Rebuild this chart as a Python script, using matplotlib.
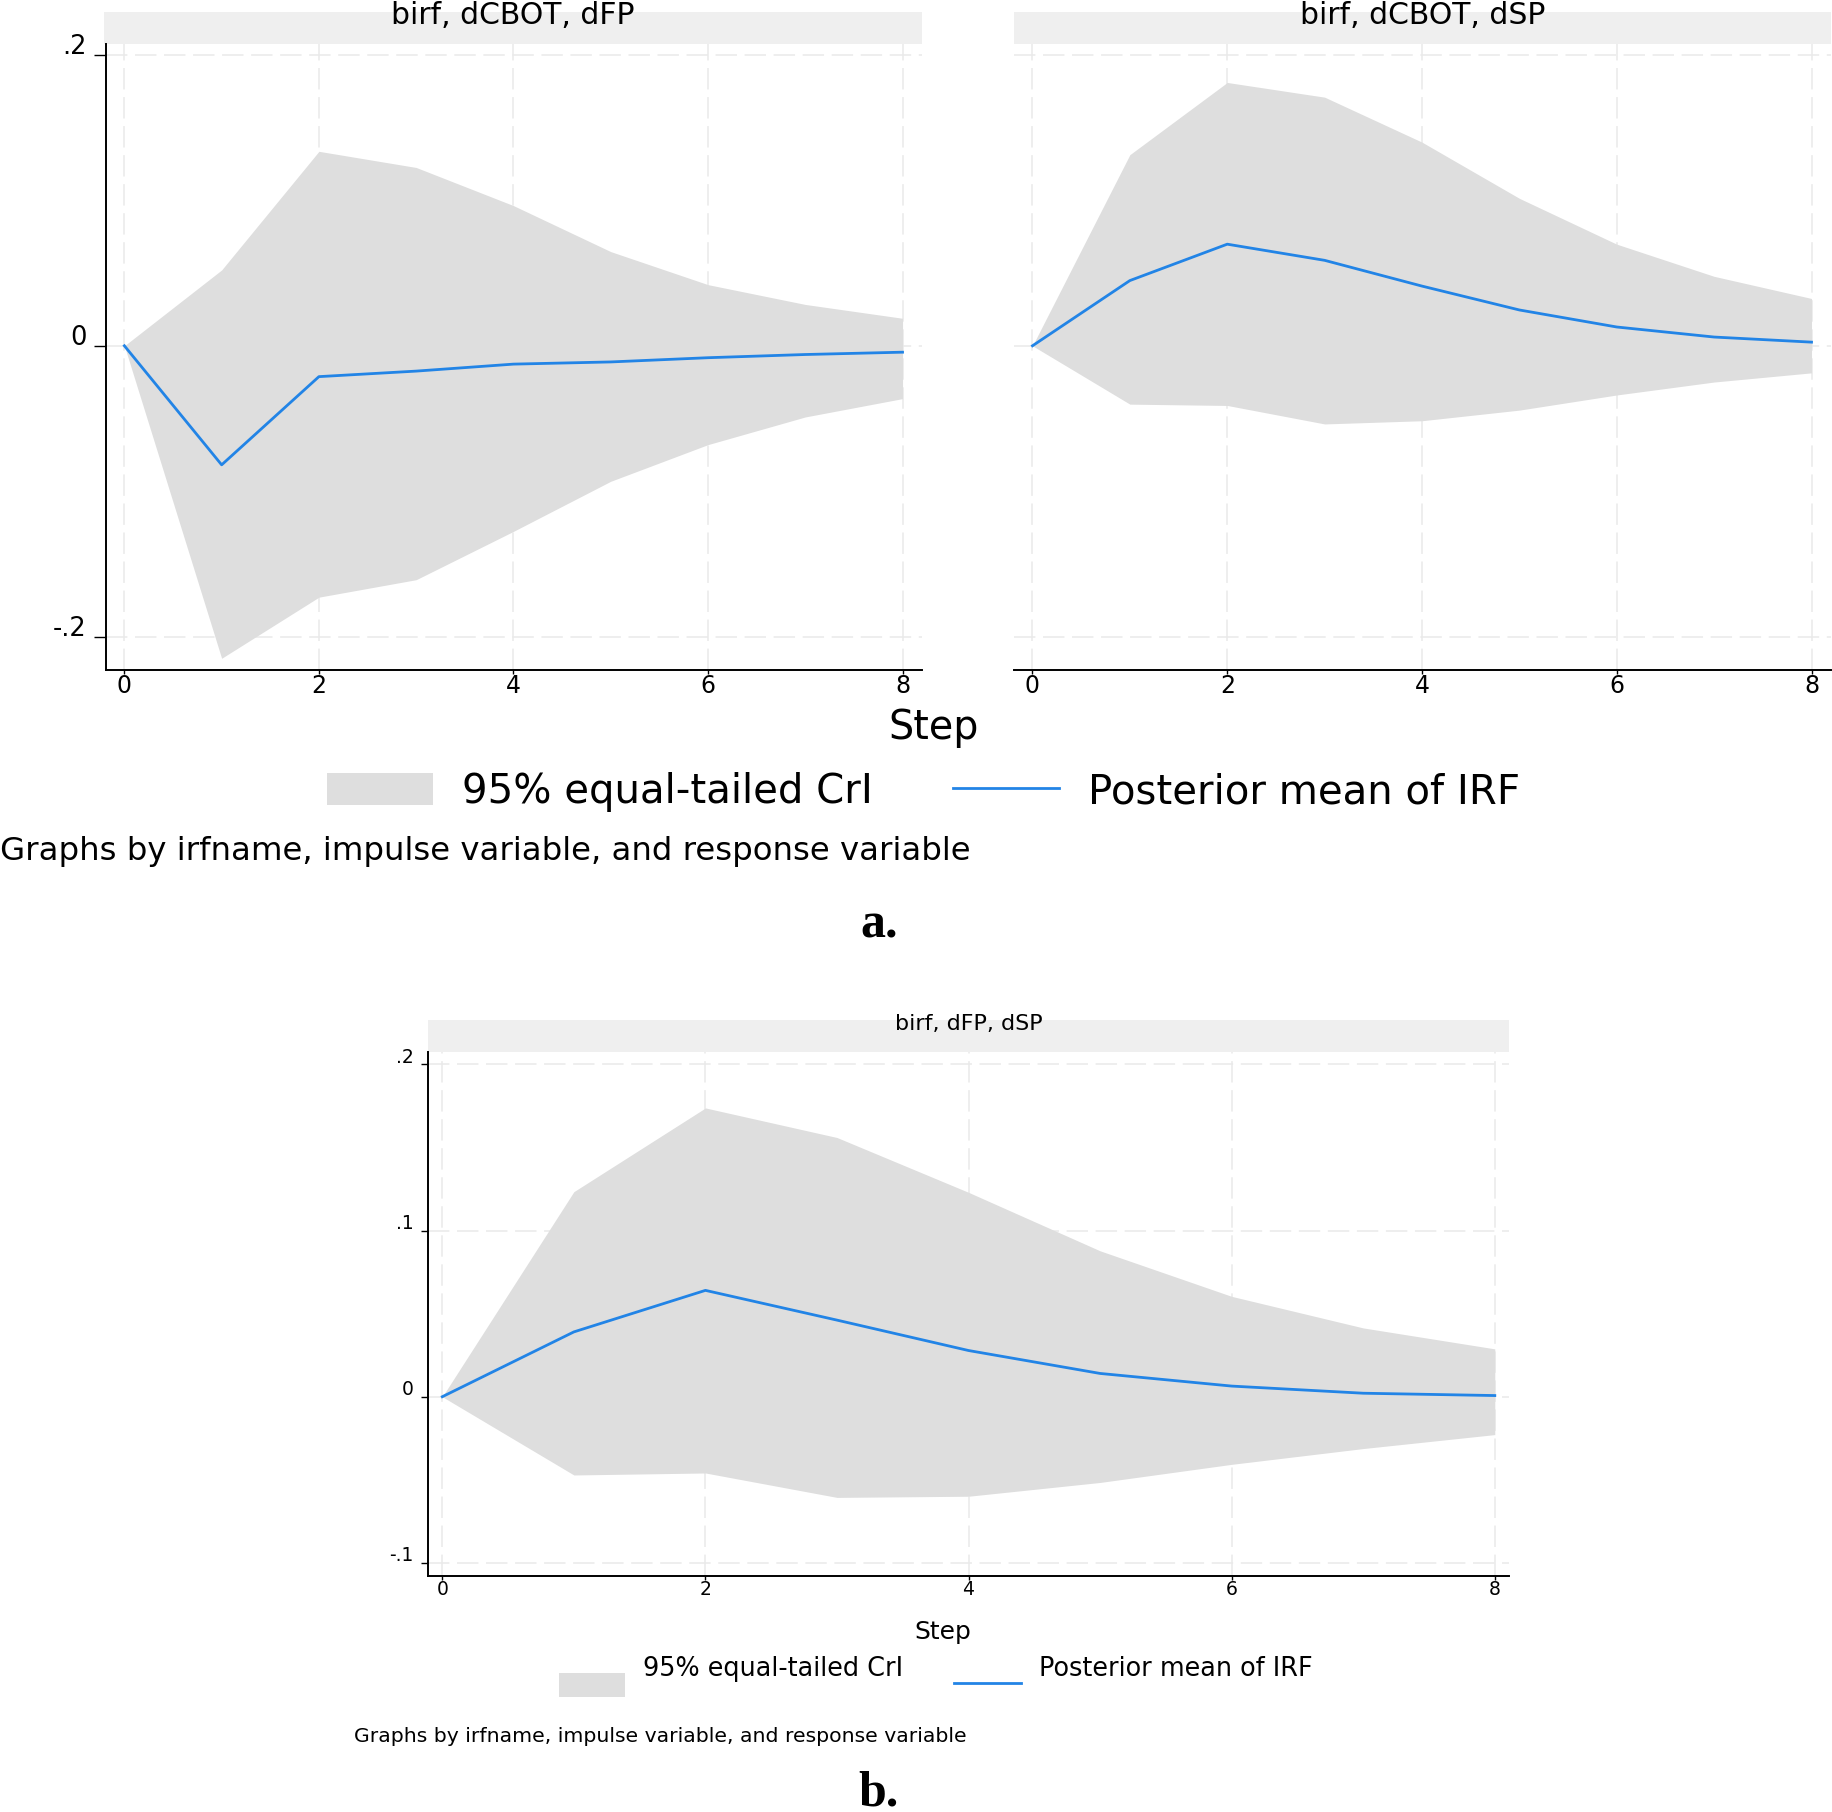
import matplotlib
matplotlib.use('Agg')
import matplotlib.pyplot as plt
from matplotlib.transforms import ScaledTranslation

W, H = 1833, 1812

steps = [0, 1, 2, 3, 4, 5, 6, 7, 8]

# panel a, left: birf, dCBOT, dFP
fp_lo = [0, -0.2147, -0.1727, -0.1607, -0.1275, -0.0931, -0.0679, -0.0489, -0.0363]
fp_hi = [0, 0.0521, 0.1336, 0.1225, 0.0963, 0.0647, 0.0420, 0.0284, 0.0189]
fp_mean = [0, -0.0818, -0.0212, -0.0174, -0.0126, -0.0111, -0.0082, -0.0060, -0.0044]

# panel a, right: birf, dCBOT, dSP
sp_lo = [0, -0.0401, -0.0410, -0.0537, -0.0515, -0.0442, -0.0338, -0.0249, -0.0186]
sp_hi = [0, 0.1313, 0.1809, 0.1708, 0.1399, 0.1013, 0.0698, 0.0477, 0.0325]
sp_mean = [0, 0.0448, 0.0698, 0.0587, 0.0410, 0.0246, 0.0129, 0.0060, 0.0025]

# panel b: birf, dFP, dSP
b_lo = [0, -0.0471, -0.0459, -0.0606, -0.0599, -0.0516, -0.0407, -0.0312, -0.0228]
b_hi = [0, 0.1234, 0.1738, 0.1560, 0.1230, 0.0878, 0.0604, 0.0414, 0.0288]
b_mean = [0, 0.0390, 0.0640, 0.0461, 0.0278, 0.0140, 0.0064, 0.0021, 0.0007]

xticks = [0, 2, 4, 6, 8]
a_yticks = [-0.2, 0, 0.2]
a_ylabels = ['-.2', '0', '.2']
b_yticks = [-0.1, 0, 0.1, 0.2]
b_ylabels = ['-.1', '0', '.1', '.2']

band_label = '95% equal-tailed CrI'
line_label = 'Posterior mean of IRF'
note = 'Graphs by irfname, impulse variable, and response variable'

FILL = '#dedede'
BLUE = '#2284e6'
GRID = '#e9e9e9'
STRIP = '#efefef'

fig = plt.figure(figsize=(W / 100, H / 100), dpi=100)


def px_axes(x0, y0, x1, y1, **kw):
    return fig.add_axes([x0 / W, 1 - y1 / H, (x1 - x0) / W, (y1 - y0) / H], **kw)


def strip(x0, y0, x1, y1, title, ty, size):
    s = px_axes(x0, y0, x1, y1, facecolor=STRIP)
    s.set_xticks([])
    s.set_yticks([])
    for sp in s.spines.values():
        sp.set_visible(False)
    fig.text((x0 + x1) / 2 / W, 1 - ty / H, title, ha='center', va='center',
             fontsize=size)


def panel(ax, lo, hi, mean, xlim, ylim, yticks, ylabels, tsize, xsize, show_y, ylen, up):
    ax.fill_between(steps, lo, hi, color=FILL, lw=0, label=band_label, zorder=1)
    ax.plot(steps, mean, color=BLUE, lw=2.0, label=line_label, zorder=3)
    ax.set_xlim(*xlim)
    ax.set_ylim(*ylim)
    ax.set_xticks(xticks)
    ax.set_xticklabels([str(v) for v in xticks])
    ax.set_yticks(yticks)
    ax.grid(True, color=GRID, lw=1.1, ls=(0, (14, 5)), zorder=0)
    ax.set_axisbelow(True)
    ax.spines['top'].set_visible(False)
    ax.spines['right'].set_visible(False)
    ax.spines['bottom'].set_linewidth(1.4)
    ax.spines['left'].set_linewidth(1.4)
    ax.tick_params(axis='x', length=3, width=1, pad=0, labelsize=xsize)
    if show_y:
        ax.set_yticklabels(ylabels)
        ax.tick_params(axis='y', length=ylen, width=1, pad=5, labelsize=tsize)
        # stata puts the y labels a little above their ticks
        off = ScaledTranslation(0, up, fig.dpi_scale_trans)
        for t in ax.yaxis.get_major_ticks():
            t.label1.set_transform(t.label1.get_transform() + off)
    else:
        ax.spines['left'].set_visible(False)
        ax.tick_params(axis='y', length=0, labelleft=False)


# ---- panel a ----
strip(104.4, 12.4, 922, 43.6, 'birf, dCBOT, dFP', 15, 21.5)
strip(1013.7, 12.4, 1831, 43.6, 'birf, dCBOT, dSP', 15, 21.5)

a_ylim = (-0.2224, 0.2076)
a_xlim = (-0.193, 8.2)
ax1 = px_axes(105.6, 43.6, 922, 669.5)
panel(ax1, fp_lo, fp_hi, fp_mean, a_xlim, a_ylim, a_yticks, a_ylabels, 18.5, 17, True, 8.5, 0.11)
ax2 = px_axes(1013.7, 43.6, 1831, 669.5)
panel(ax2, sp_lo, sp_hi, sp_mean, a_xlim, a_ylim, a_yticks, a_ylabels, 18.5, 17, False, 0, 0)

fig.text(934 / W, 1 - 728 / H, 'Step', ha='center', va='center', fontsize=28.5)
h, l = ax1.get_legend_handles_labels()
fig.legend(h, l, loc='center', bbox_to_anchor=(923.5 / W, 1 - 792 / H), ncol=2,
           frameon=False, fontsize=29, handlelength=2.62, handleheight=0.82,
           handletextpad=0.72, columnspacing=2.0, borderpad=0)
fig.text(0 / W, 1 - 852 / H, note, ha='left', va='center', fontsize=23.3)
fig.text(879 / W, 1 - 926 / H, 'a.', ha='center', va='center', fontsize=36,
         fontweight='bold', family='Liberation Serif')

# ---- panel b ----
strip(427.7, 1020.4, 1509.4, 1052.1, 'birf, dFP, dSP', 1024, 16)
ax3 = px_axes(427.7, 1052.1, 1509.4, 1576)
panel(ax3, b_lo, b_hi, b_mean, (-0.111, 8.111), (-0.1079, 0.2074),
      b_yticks, b_ylabels, 13.5, 13.5, True, 5, 0.09)

fig.text(943 / W, 1 - 1632 / H, 'Step', ha='center', va='center', fontsize=18)
h, l = ax3.get_legend_handles_labels()
leg = fig.legend(h, l, loc='center', bbox_to_anchor=(935.5 / W, 1 - 1686 / H), ncol=2,
                 frameon=False, fontsize=18.4, handlelength=2.6, handleheight=1.1,
                 handletextpad=0.7, columnspacing=2.0, borderpad=0)
up = ScaledTranslation(0, 0.17, fig.dpi_scale_trans)
for t in leg.get_texts():
    t.set_transform(t.get_transform() + up)
fig.text(354 / W, 1 - 1737 / H, note, ha='left', va='center', fontsize=14.7)
fig.text(879 / W, 1 - 1794 / H, 'b.', ha='center', va='center', fontsize=36,
         fontweight='bold', family='Liberation Serif')

fig.savefig('out.png', dpi=100)
